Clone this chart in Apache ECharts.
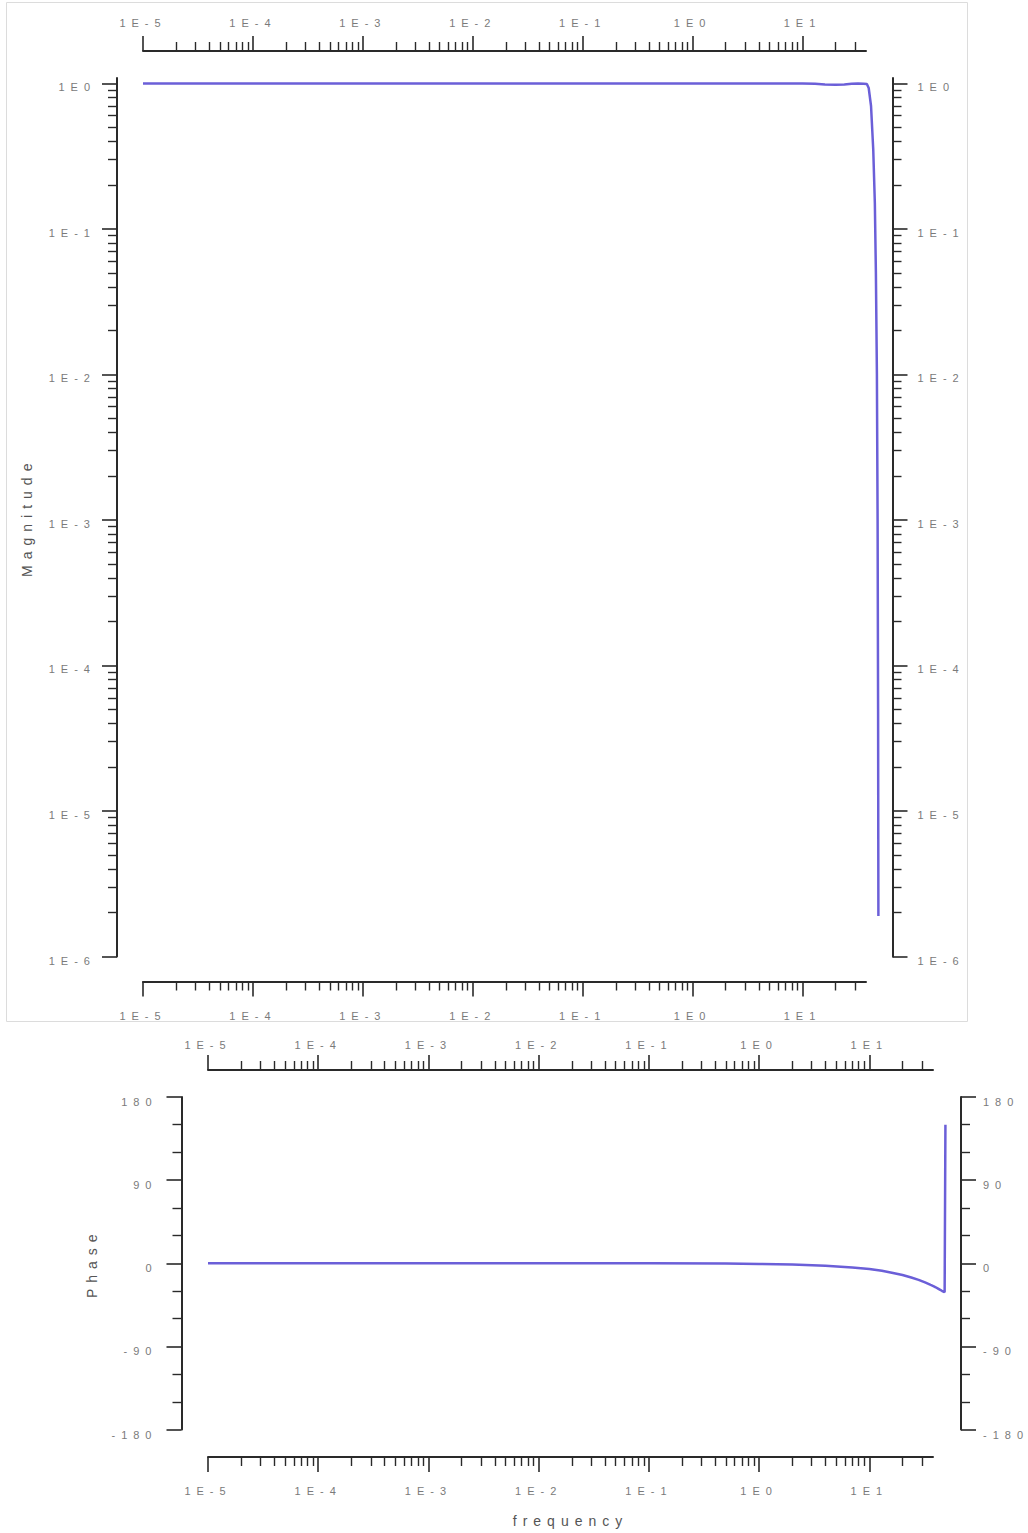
<!DOCTYPE html>
<html>
<head>
<meta charset="utf-8">
<title>Magnitude / Phase</title>
<script src="https://cdn.jsdelivr.net/npm/echarts@6/dist/echarts.min.js"></script>
<style>
  html, body { margin: 0; padding: 0; background: #fff; }
  #bode { width: 1028px; height: 1533px; }
  #bode text { letter-spacing: 6px; }
</style>
</head>
<body>
<div id="bode"></div>
<script>
// frequency samples
var freq = [1e-5, 1e-4, 1e-3, 1e-2, 1e-1, 0.5, 1, 2, 4, 7, 10, 13, 16, 20, 24, 28, 32, 36, 38.5, 40, 42, 44, 45.5, 46.5, 47.5, 48.2, 48.7, 49];
// magnitude (log scale)
var magnitude = [1, 1, 1, 1, 1, 1, 1, 1, 1, 1, 1.0, 0.995, 0.985, 0.98, 0.985, 0.995, 1.0, 0.995, 0.99, 0.93, 0.7, 0.35, 0.15, 0.05, 0.01, 1e-3, 5e-5, 1.9e-6];
// phase in degrees
var phase = [0, 0, 0, 0, 0, -0.3, -0.7, -1.3, -2.6, -4.6, -6.2, -8.2, -10.2, -12.8, -15.5, -18, -20.8, -23.5, -25, -26, -27.4, -28.8, -29.8, -30.4, -31, -31.4, -31.7, 150];

// tick labels
var freqDecades = [1e-5, 1e-4, 1e-3, 1e-2, 1e-1, 1, 10];
var magDecades = [1e-6, 1e-5, 1e-4, 1e-3, 1e-2, 1e-1, 1];
var phaseTicks = [-180, -90, 0, 90, 180];

var X_MIN = 1e-5, X_MAX = 37.8;      // drawn frequency axes
var X_DATA_MAX = 60;                 // the traces run a bit past the drawn axes
var MAG_MIN = 1e-6, MAG_MAX = 1.09;

function minorsOf(decades, lo, hi) {
  var out = [];
  decades.forEach(function (d) {
    for (var k = 2; k <= 9; k++) {
      var v = k * d;
      if (v > lo && v < hi) out.push(v);
    }
  });
  return out;
}
var freqMinor = minorsOf(freqDecades, X_MIN, X_MAX);
var magMinor = minorsOf(magDecades, MAG_MIN, MAG_MAX);

function expLabel(v) {
  return '1E' + Math.round(Math.log10(v));
}

var AXIS_COLOR = '#2a2a2a';
var LABEL_STYLE = { fontFamily: 'Liberation Sans', fontSize: 11, color: '#7a7a7a' };
var NAME_STYLE = { fontFamily: 'Liberation Sans', fontSize: 14, color: '#555' };

// one visible axis = a major axis (ticks + labels) plus an overlay carrying the minor ticks
function logAxis(opt) {
  var major = {
    type: 'log', gridIndex: opt.grid, position: opt.pos, offset: opt.offset,
    min: opt.min, max: opt.max, logBase: 10,
    axisLine: { show: true, onZero: false, lineStyle: { color: AXIS_COLOR, width: 2 } },
    axisTick: { show: true, length: 15, customValues: opt.major, lineStyle: { color: AXIS_COLOR, width: 1.6 } },
    axisLabel: Object.assign({ show: true, margin: opt.margin, customValues: opt.major, formatter: expLabel }, LABEL_STYLE, opt.label || {}),
    splitLine: { show: false }, minorTick: { show: false }
  };
  if (opt.name) {
    major.name = opt.name;
    major.nameLocation = 'middle';
    major.nameGap = opt.nameGap;
    major.nameTextStyle = NAME_STYLE;
  }
  var minor = {
    type: 'log', gridIndex: opt.grid, position: opt.pos, offset: opt.offset,
    min: opt.min, max: opt.max, logBase: 10,
    axisLine: { show: false, onZero: false },
    axisTick: { show: true, length: 9, customValues: opt.minor, lineStyle: { color: AXIS_COLOR, width: 1.4 } },
    axisLabel: { show: false },
    splitLine: { show: false }
  };
  return [major, minor];
}

function phaseAxis(pos, offset, margin, name) {
  var ax = {
    type: 'value', gridIndex: 1, position: pos, offset: offset,
    min: -180, max: 180, interval: 90,
    axisLine: { show: true, onZero: false, lineStyle: { color: AXIS_COLOR, width: 2 } },
    axisTick: { show: true, length: 15, lineStyle: { color: AXIS_COLOR, width: 1.6 } },
    minorTick: { show: true, splitNumber: 3, length: 9, lineStyle: { color: AXIS_COLOR, width: 1.4 } },
    axisLabel: Object.assign({ margin: margin, customValues: phaseTicks, verticalAlign: 'top', lineHeight: 10 }, LABEL_STYLE),
    splitLine: { show: false }, minorSplitLine: { show: false }
  };
  if (name) {
    ax.name = name;
    ax.nameLocation = 'middle';
    ax.nameGap = 83;
    ax.nameTextStyle = NAME_STYLE;
  }
  return ax;
}

function hiddenAxis(grid, type, min, max) {
  return { type: type, gridIndex: grid, min: min, max: max, show: false,
           axisLine: { onZero: false }, splitLine: { show: false } };
}

// labels sit a little below their ticks on the vertical axes
var Y_LABEL = { verticalAlign: 'top', lineHeight: 8 };

var xAxes = [].concat(
  logAxis({ grid: 0, pos: 'bottom', offset: 25, min: X_MIN, max: X_MAX, major: freqDecades, minor: freqMinor, margin: 29 }),
  logAxis({ grid: 0, pos: 'top', offset: 27, min: X_MIN, max: X_MAX, major: freqDecades, minor: freqMinor, margin: 23 }),
  logAxis({ grid: 1, pos: 'bottom', offset: 27.5, min: X_MIN, max: X_MAX, major: freqDecades, minor: freqMinor, margin: 28, name: 'frequency', nameGap: 57 }),
  logAxis({ grid: 1, pos: 'top', offset: 27, min: X_MIN, max: X_MAX, major: freqDecades, minor: freqMinor, margin: 20 }),
  [hiddenAxis(2, 'log', X_MIN, X_DATA_MAX), hiddenAxis(3, 'log', X_MIN, X_DATA_MAX)]
);

var yAxes = [].concat(
  logAxis({ grid: 0, pos: 'left', offset: 26, min: MAG_MIN, max: MAG_MAX, major: magDecades, minor: magMinor, margin: 21, label: Y_LABEL, name: 'Magnitude', nameGap: 83 }),
  logAxis({ grid: 0, pos: 'right', offset: 26.5, min: MAG_MIN, max: MAG_MAX, major: magDecades, minor: magMinor, margin: 25, label: Y_LABEL }),
  [phaseAxis('left', 26.5, 24, 'Phase'), phaseAxis('right', 28, 22)],
  [hiddenAxis(2, 'log', MAG_MIN, MAG_MAX), hiddenAxis(3, 'value', -180, 180)]
);

// data grids share the left edge and the px-per-decade of the drawn grids, but reach further right
function dataGrid(g) {
  var w = 1028 - g.left - g.right;
  var span = Math.log10(X_MAX / X_MIN), dataSpan = Math.log10(X_DATA_MAX / X_MIN);
  return { left: g.left, top: g.top, bottom: g.bottom, width: w * dataSpan / span };
}
var magGrid = { left: 143, right: 162, top: 78, bottom: 576.5 };
var phaseGrid = { left: 208, right: 95, top: 1097, bottom: 103.5 };

var chart = echarts.init(document.getElementById('bode'), null, { renderer: 'svg' });

chart.setOption({
  animation: false,
  backgroundColor: '#fff',
  graphic: [{
    type: 'rect', silent: true,
    shape: { x: 6.5, y: 2.5, width: 961, height: 1019 },
    style: { fill: 'none', stroke: '#dcdcdc', lineWidth: 1 }
  }],
  grid: [magGrid, phaseGrid, dataGrid(magGrid), dataGrid(phaseGrid)],
  xAxis: xAxes,
  yAxis: yAxes,
  series: [{
    name: 'Magnitude', type: 'line', xAxisIndex: 8, yAxisIndex: 6,
    data: freq.map(function (f, i) { return [f, magnitude[i]]; }),
    showSymbol: false,
    lineStyle: { color: '#6b5fd8', width: 2.5 }
  }, {
    name: 'Phase', type: 'line', xAxisIndex: 9, yAxisIndex: 7,
    data: freq.map(function (f, i) { return [f, phase[i]]; }),
    showSymbol: false,
    lineStyle: { color: '#6b5fd8', width: 2.5 }
  }]
});
</script>
</body>
</html>
